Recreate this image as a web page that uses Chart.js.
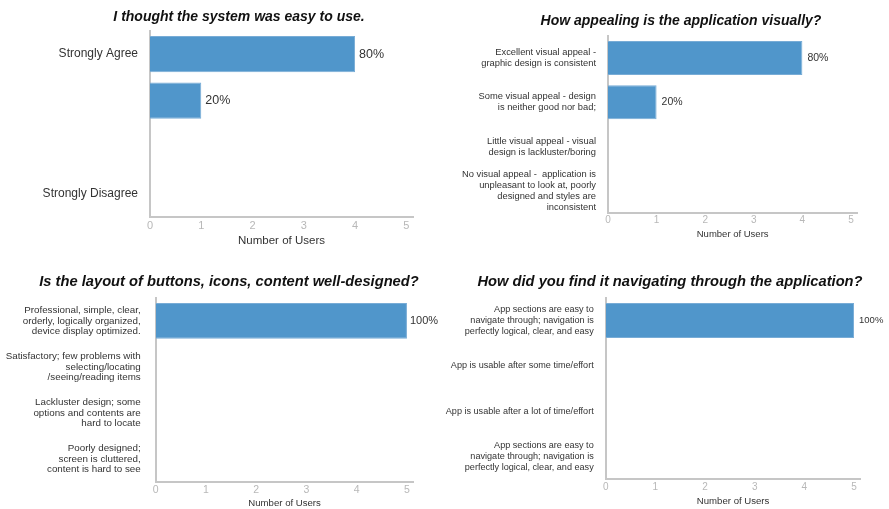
<!DOCTYPE html>
<html>
<head>
<meta charset="utf-8">
<script src="https://cdn.jsdelivr.net/npm/chart.js@4"></script>
<style>
  html, body { margin: 0; padding: 0; background: #fff; width: 889px; height: 509px; overflow: hidden; }
  canvas { position: absolute; }
</style>
</head>
<body>
<canvas id="easyChart"></canvas>
<canvas id="appealChart"></canvas>
<canvas id="layoutChart"></canvas>
<canvas id="navChart"></canvas>
<script>
// ---- data ----
const easyTitle = 'I thought the system was easy to use.';
const easyLabels = ['Strongly Agree', '', '', 'Strongly Disagree'];
const easyUsers = [4, 1, 0, 0];

const appealTitle = 'How appealing is the application visually?';
const appealLabels = [
    ['Excellent visual appeal -', 'graphic design is consistent'],
    ['Some visual appeal - design', 'is neither good nor bad;'],
    ['Little visual appeal - visual', 'design is lackluster/boring'],
    ['No visual appeal -  application is', 'unpleasant to look at, poorly', 'designed and styles are', 'inconsistent']
];
const appealUsers = [4, 1, 0, 0];

const layoutTitle = 'Is the layout of buttons, icons, content well-designed?';
const layoutLabels = [
    ['Professional, simple, clear,', 'orderly, logically organized,', 'device display optimized.'],
    ['Satisfactory; few problems with', 'selecting/locating', '/seeing/reading items'],
    ['Lackluster design; some', 'options and contents are', 'hard to locate'],
    ['Poorly designed;', 'screen is cluttered,', 'content is hard to see']
];
const layoutUsers = [5, 0, 0, 0];

const navTitle = 'How did you find it navigating through the application?';
const navLabels = [
    ['App sections are easy to', 'navigate through; navigation is', 'perfectly logical, clear, and easy'],
    'App is usable after some time/effort',
    'App is usable after a lot of time/effort',
    ['App sections are easy to', 'navigate through; navigation is', 'perfectly logical, clear, and easy']
];
const navUsers = [5, 0, 0, 0];

const xTicks = [0, 1, 2, 3, 4, 5];
const axisTitle = 'Number of Users';

// ---- drawing ----
const barBlue = '#5096cb';
const barEdge = '#78acd6';
const axisGray = '#c6c6c6';
const tickGray = '#b8b8b8';
const textDark = '#333';
const fontName = '"Liberation Sans", Arial, sans-serif';

// writes the share of users after each bar
const percentLabels = {
    id: 'percentLabels',
    afterDatasetsDraw(chart, args, opts) {
        const ctx = chart.ctx;
        const data = chart.data.datasets[0].data;
        const total = data.reduce((a, b) => a + b, 0);
        chart.getDatasetMeta(0).data.forEach((bar, i) => {
            if (!data[i]) return;
            ctx.save();
            ctx.font = opts.size + 'px ' + fontName;
            ctx.fillStyle = textDark;
            ctx.textAlign = 'left';
            ctx.textBaseline = 'middle';
            ctx.fillText(Math.round(data[i] / total * 100) + '%', bar.x + opts.gap, bar.y);
            ctx.restore();
        });
    }
};

function makeChart(id, box, cfg) {
    const canvas = document.getElementById(id);
    canvas.width = box.w;
    canvas.height = box.h;
    canvas.style.left = box.x + 'px';
    canvas.style.top = box.y + 'px';
    canvas.style.width = box.w + 'px';
    canvas.style.height = box.h + 'px';

    return new Chart(canvas.getContext('2d'), {
        type: 'bar',
        data: {
            labels: cfg.labels,
            datasets: [{
                data: cfg.values,
                backgroundColor: barBlue,
                borderColor: barEdge,
                borderWidth: 1,
                barPercentage: cfg.barPct,
                categoryPercentage: 1
            }]
        },
        options: {
            indexAxis: 'y',
            responsive: false,
            animation: false,
            devicePixelRatio: 1,
            layout: { padding: 0 },
            plugins: {
                legend: { display: false },
                tooltip: { enabled: false },
                title: {
                    display: true,
                    text: cfg.title,
                    color: '#111',
                    font: { family: fontName, size: cfg.titleSize, weight: 'bold', style: 'italic', lineHeight: 1.2 },
                    padding: cfg.titlePad
                },
                percentLabels: { size: cfg.pctSize, gap: cfg.pctGap }
            },
            scales: {
                x: {
                    min: 0,
                    max: 5.13,
                    afterBuildTicks: scale => { scale.ticks = xTicks.map(v => ({ value: v })); },
                    grid: { display: false, drawTicks: false },
                    border: { display: true, color: axisGray, width: 2 },
                    ticks: {
                        color: tickGray,
                        padding: cfg.xTickPad,
                        font: { family: fontName, size: cfg.xTickSize }
                    },
                    title: {
                        display: true,
                        text: axisTitle,
                        color: textDark,
                        font: { family: fontName, size: cfg.axisTitleSize, lineHeight: 1.2 },
                        padding: { top: 0, bottom: cfg.axisTitlePad }
                    },
                    afterFit: scale => { scale.height = cfg.xHeight; }
                },
                y: {
                    grid: { display: false, drawTicks: false },
                    border: { display: true, color: axisGray, width: 2 },
                    ticks: {
                        color: textDark,
                        padding: cfg.yTickPad,
                        autoSkip: false,
                        font: { family: fontName, size: cfg.yTickSize, lineHeight: cfg.yLineHeight }
                    },
                    afterFit: scale => { scale.width = cfg.yWidth; }
                },
                // empty axis on the right, only keeps room for the % labels
                yRoom: {
                    axis: 'y',
                    type: 'category',
                    position: 'right',
                    grid: { display: false, drawTicks: false },
                    border: { display: false },
                    ticks: { display: false },
                    afterFit: scale => { scale.width = cfg.rightRoom; }
                }
            }
        },
        plugins: [percentLabels]
    });
}

makeChart('easyChart', { x: 0, y: 0, w: 478, h: 250 }, {
    title: easyTitle, titleSize: 14, labels: easyLabels, values: easyUsers, barPct: 0.78,
    titlePad: { top: 9, bottom: 5 },
    yWidth: 150, rightRoom: 65, yTickSize: 12, yLineHeight: 1.2, yTickPad: 12,
    xHeight: 33, xTickPad: 2, xTickSize: 11,
    axisTitleSize: 11.5, axisTitlePad: 2.5,
    pctSize: 12.5, pctGap: 4
});

makeChart('appealChart', { x: 448, y: 0, w: 466, h: 250 }, {
    title: appealTitle, titleSize: 14, labels: appealLabels, values: appealUsers, barPct: 0.77,
    titlePad: { top: 13, bottom: 6 },
    yWidth: 160, rightRoom: 56.7, yTickSize: 9.35, yLineHeight: 1.15, yTickPad: 12,
    xHeight: 37, xTickPad: 1, xTickSize: 10,
    axisTitleSize: 9.5, axisTitlePad: 10,
    pctSize: 10.5, pctGap: 5
});

makeChart('layoutChart', { x: 0, y: 255, w: 458, h: 259 }, {
    title: layoutTitle, titleSize: 14.7, labels: layoutLabels, values: layoutUsers, barPct: 0.78,
    titlePad: { top: 18, bottom: 7.2 },
    yWidth: 155.7, rightRoom: 44.5, yTickSize: 9.8, yLineHeight: 1.1, yTickPad: 15,
    xHeight: 32, xTickPad: 2, xTickSize: 10.5,
    axisTitleSize: 9.6, axisTitlePad: 5.2,
    pctSize: 11, pctGap: 3
});

makeChart('navChart', { x: 440, y: 255, w: 460, h: 254 }, {
    title: navTitle, titleSize: 14.7, labels: navLabels, values: navUsers, barPct: 0.77,
    titlePad: { top: 18, bottom: 7.2 },
    yWidth: 165.7, rightRoom: 39.5, yTickSize: 9.1, yLineHeight: 1.2, yTickPad: 12,
    xHeight: 30, xTickPad: 2.5, xTickSize: 10,
    axisTitleSize: 9.6, axisTitlePad: 1.5,
    pctSize: 9.5, pctGap: 5
});
</script>
</body>
</html>
